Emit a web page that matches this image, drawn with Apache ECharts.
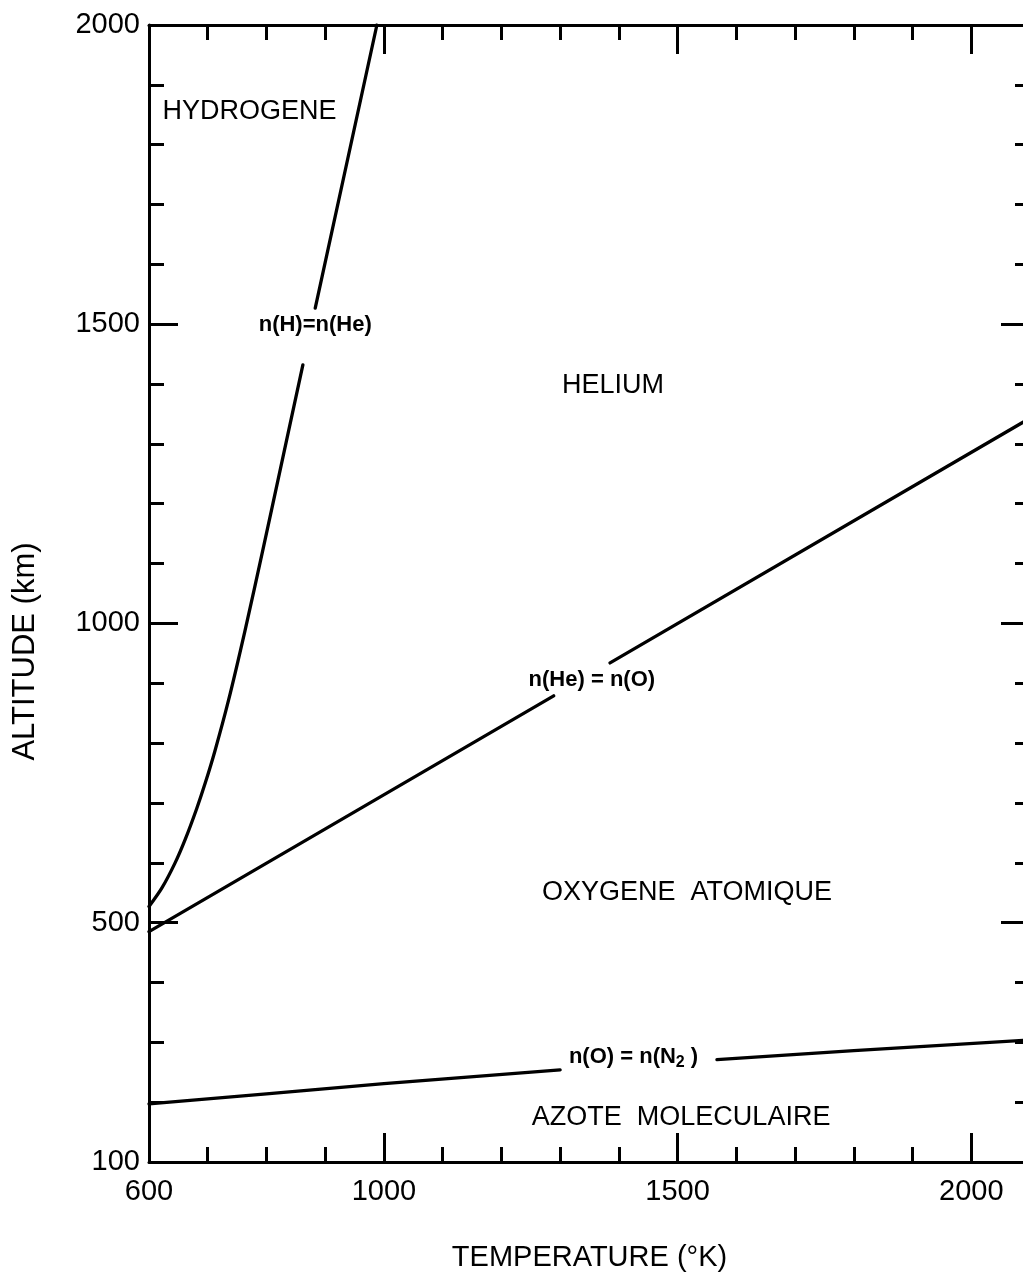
<!DOCTYPE html>
<html>
<head>
<meta charset="utf-8">
<title>Altitude de transition des constituants</title>
<script src="https://cdn.jsdelivr.net/npm/echarts@6/dist/echarts.min.js"></script>
<style>
  html, body { margin: 0; padding: 0; background: #fff; }
  #chart { width: 1023px; height: 1273px; }
</style>
</head>
<body>
<div id="chart"></div>
<script>
// Axis ranges and tick labels
const tempRange = [600, 2100];
const altRange = [100, 2000];
const tempLabels = [600, 1000, 1500, 2000];
const tempMajorTicks = [1000, 1500, 2000];
const altLabels = [100, 500, 1000, 1500, 2000];
const altMajorTicks = [500, 1000, 1500];

// Boundary n(H) = n(He); null leaves room for the curve label
const hHeTemp = [600, 622, 644, 662, 681, 696, 712, 735, 763, 795, 823, 862, 872, 883, 988];
const hHeAlt  = [527, 558, 599, 640, 690, 734, 786, 870, 986, 1128, 1255, 1432, null, 1527, 2000];

// Boundary n(He) = n(O)
const heOTemp = [600, 1289, 1337, 1385, 2100];
const heOAlt  = [485, 879, null, 934, 1343];

// Boundary n(O) = n(N2)
const oN2Temp = [600, 800, 1000, 1300, 1433, 1567, 1800, 2100];
const oN2Alt  = [197, 214, 231, 254, null, 271, 286, 304];

// Names of the dominant constituent in each region
const regionNames = ['HYDROGENE', 'HELIUM', 'OXYGENE  ATOMIQUE', 'AZOTE  MOLECULAIRE'];
const regionTemp = [771, 1390, 1516, 1506];
const regionAlt = [1856, 1398, 550, 175];

// Labels written in the gaps of the boundary curves
const boundaryNames = ['n(H)=n(He)', 'n(He) = n(O)', 'n(O) = n(N{s|2} )'];
const boundaryTemp = [883, 1354, 1425];
const boundaryAlt = [1499, 905, 276];

const INK = '#000';
const FONT = '"Liberation Sans", Arial, sans-serif';

function zip(xs, ys) {
  return xs.map((x, i) => [x, ys[i]]);
}

function baseAxis(range, position) {
  return {
    type: 'value',
    min: range[0],
    max: range[1],
    interval: 100,
    position: position,
    axisLine: { show: true, lineStyle: { color: INK, width: 3 } },
    axisTick: { show: true, inside: true, length: 15, lineStyle: { color: INK, width: 3 } },
    axisLabel: { show: false },
    splitLine: { show: false }
  };
}

function majorAxis(range, position, ticks, labels, extra) {
  return Object.assign({
    type: 'value',
    min: range[0],
    max: range[1],
    position: position,
    axisLine: { show: false },
    axisTick: { show: true, inside: true, length: 29, customValues: ticks,
                lineStyle: { color: INK, width: 3 } },
    axisLabel: labels ? {
      show: true, customValues: labels, color: INK,
      fontFamily: FONT, fontSize: 29,
      margin: (position === 'bottom') ? 15 : 9,
      formatter: (v) => String(v)
    } : { show: false },
    splitLine: { show: false }
  }, extra || {});
}

const chart = echarts.init(document.getElementById('chart'), null, { renderer: 'canvas' });

const lineStyle = { color: INK, width: 3.3, cap: 'round', join: 'round' };

const labelBase = {
  show: true, position: 'inside', formatter: '{b}',
  color: INK, opacity: 1, textBorderWidth: 0, textBorderColor: 'transparent',
  fontFamily: FONT
};

chart.setOption({
  backgroundColor: '#fff',
  animation: false,
  grid: {
    left: 149, right: -7, top: 25, bottom: 111,
    outerBoundsMode: 'none', containLabel: false
  },
  xAxis: [
    baseAxis(tempRange, 'bottom'),
    baseAxis(tempRange, 'top'),
    majorAxis(tempRange, 'bottom', tempMajorTicks, tempLabels, {
      name: 'TEMPERATURE (°K)',
      nameLocation: 'middle',
      nameGap: 81,
      nameTextStyle: { color: INK, fontFamily: FONT, fontSize: 29 }
    }),
    majorAxis(tempRange, 'top', tempMajorTicks, null)
  ],
  yAxis: [
    baseAxis(altRange, 'left'),
    baseAxis(altRange, 'right'),
    majorAxis(altRange, 'left', altMajorTicks, altLabels, {
      name: 'ALTITUDE (km)',
      nameLocation: 'middle',
      nameGap: 108,
      nameTextStyle: { color: INK, fontFamily: FONT, fontSize: 31, padding: [0, 116, 0, 0] }
    }),
    majorAxis(altRange, 'right', altMajorTicks, null)
  ],
  series: [
    {
      name: 'n(H)=n(He)', type: 'line', xAxisIndex: 0, yAxisIndex: 0,
      data: zip(hHeTemp, hHeAlt), showSymbol: false, symbol: 'none',
      smooth: 0.3, connectNulls: false,
      lineStyle: lineStyle, silent: true
    },
    {
      name: 'n(He)=n(O)', type: 'line', xAxisIndex: 0, yAxisIndex: 0,
      data: zip(heOTemp, heOAlt), showSymbol: false, symbol: 'none',
      connectNulls: false, lineStyle: lineStyle, silent: true
    },
    {
      name: 'n(O)=n(N2)', type: 'line', xAxisIndex: 0, yAxisIndex: 0,
      data: zip(oN2Temp, oN2Alt), showSymbol: false, symbol: 'none',
      connectNulls: false, lineStyle: lineStyle, silent: true
    },
    {
      name: 'regions', type: 'scatter', xAxisIndex: 0, yAxisIndex: 0,
      symbolSize: 0, silent: true, itemStyle: { color: INK },
      data: regionNames.map((n, i) => ({ value: [regionTemp[i], regionAlt[i]], name: n })),
      label: Object.assign({}, labelBase, { fontSize: 27 })
    },
    {
      name: 'boundaries', type: 'scatter', xAxisIndex: 0, yAxisIndex: 0,
      symbolSize: 0, silent: true, itemStyle: { color: INK },
      data: boundaryNames.map((n, i) => ({ value: [boundaryTemp[i], boundaryAlt[i]], name: n })),
      label: Object.assign({}, labelBase, {
        fontSize: 22, fontWeight: 'bold',
        rich: {
          s: { color: INK, fontFamily: FONT, fontSize: 16, fontWeight: 'bold',
               textBorderWidth: 0, padding: [12, 0, 0, 0], verticalAlign: 'bottom' }
        }
      })
    }
  ]
});
</script>
</body>
</html>
